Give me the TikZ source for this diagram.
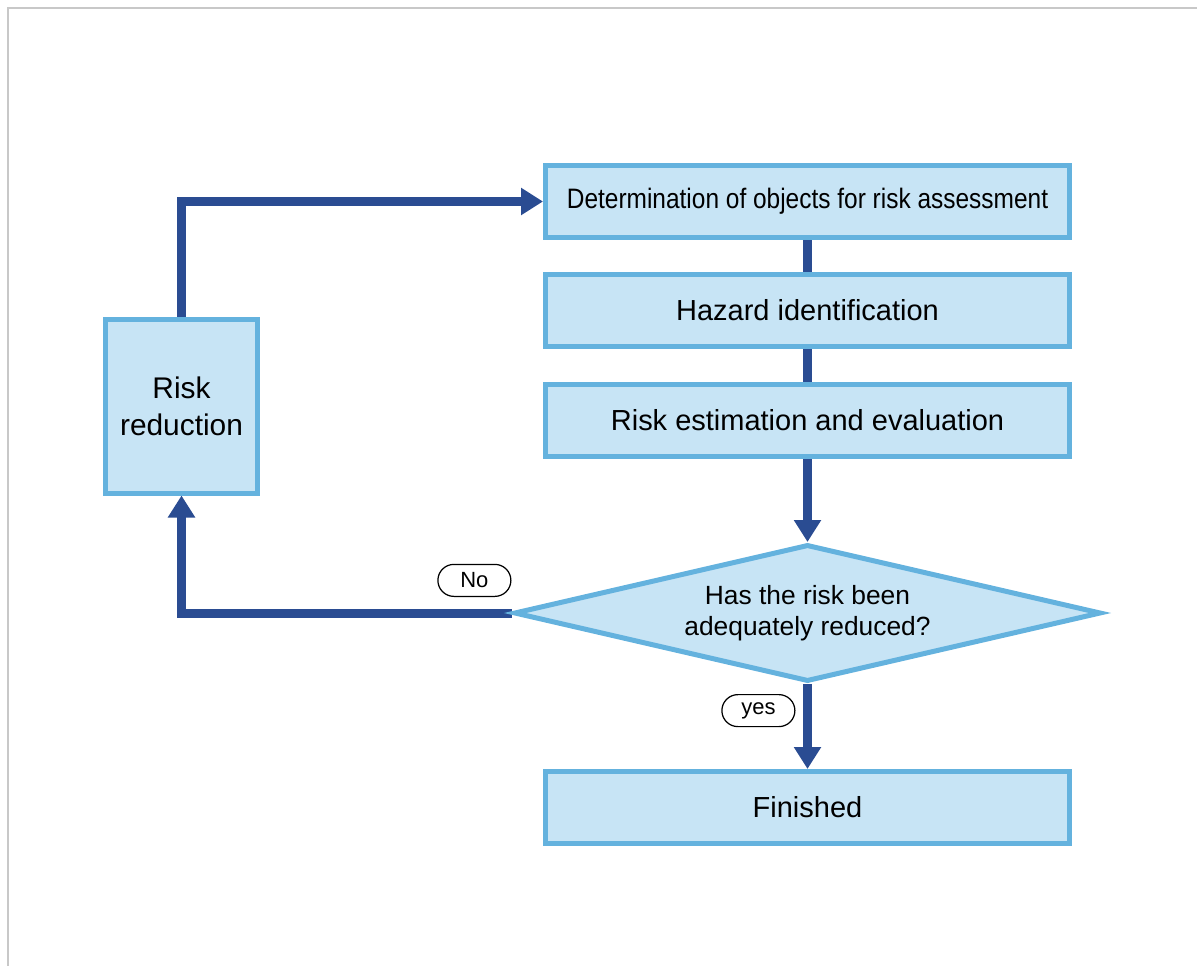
\documentclass[tikz,border=0pt]{standalone}
\usepackage{fontspec}
\setmainfont{Liberation Sans}
\newfontfamily\narrowfont[FakeStretch=0.87]{Liberation Sans}
\usetikzlibrary{positioning,arrows.meta,shapes.geometric,backgrounds}
\definecolor{boxline}{RGB}{100,178,222}
\definecolor{boxfill}{RGB}{199,228,245}
\definecolor{flow}{RGB}{42,76,146}
\definecolor{frame}{RGB}{200,200,200}

\begin{document}
\begin{tikzpicture}[
  font=\fontsize{16.5}{19}\selectfont,
  box/.style={draw=boxline,fill=boxfill,line width=1mm,minimum height=14.4mm,minimum width=104.8mm,align=center},
  dec/.style={diamond,draw=boxline,fill=boxfill,line width=1mm,aspect=4.4,minimum width=117.4mm,minimum height=27.4mm,inner sep=1pt,align=center,font=\fontsize{15}{17.6}\selectfont},
  tag/.style={draw,line width=0.7pt,rounded corners=3.2mm,minimum width=14.6mm,minimum height=6.4mm,inner sep=0pt,fill=white,font=\fontsize{12.5}{14}\selectfont},
  flw/.style={draw=flow,line width=1.8mm},
  >={Triangle[length=4.4mm,width=5.2mm]}
]
\useasboundingbox (0,0) rectangle (239.4mm,-193.2mm);
\draw[frame,line width=0.4mm] (1.5mm,-193.2mm) -- (1.5mm,-1.7mm) -- (239.4mm,-1.7mm);

\node[box,font=\narrowfont\fontsize{16}{19}\selectfont] (obj) at (161.5mm,-40.3mm) {Determination of objects for risk assessment};
\node[box,below=6.4mm of obj] (haz) {Hazard identification};
\node[box,below=6.6mm of haz] (est) {Risk estimation and evaluation};
\node[dec,below=16.6mm of est] (chk) {Has the risk been\\adequately reduced?};
\node[box,below=17mm of chk] (fin) {Finished};

\node[box,minimum width=30.4mm,minimum height=34.6mm,font=\fontsize{17}{21}\selectfont] (red) at (36.3mm,-81.3mm) {Risk\\reduction};

\node[tag,above left=3.2mm and 0mm of chk.west] (no) {No};
\node[tag,below left=2mm and 2.4mm of chk.south] (yes) {yes};

\begin{scope}[on background layer]
\draw[flw,->] (red.north) |- (obj.west);
\draw[flw] (obj) -- (haz);
\draw[flw] (haz) -- (est);
\draw[flw,->] (est) -- (chk);
\draw[flw,->] (chk.west) -| (red.south);
\draw[flw,->] (chk) -- (fin);
\end{scope}
\end{tikzpicture}
\end{document}
